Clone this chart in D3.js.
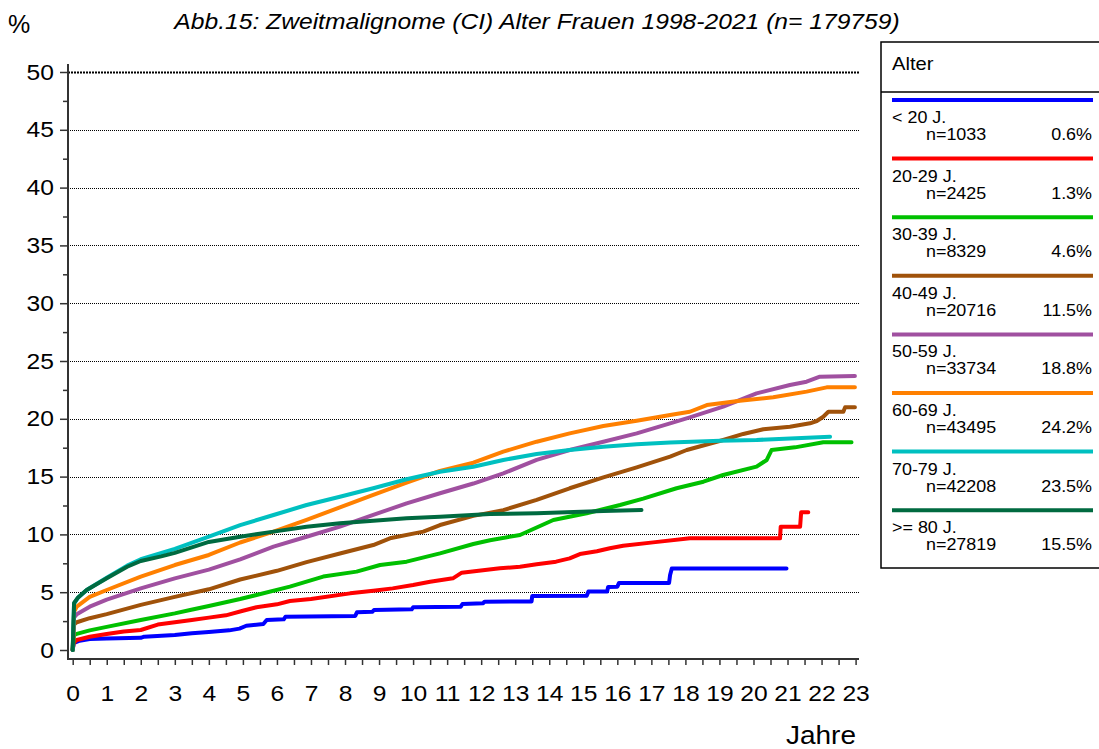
<!DOCTYPE html>
<html>
<head>
<meta charset="utf-8">
<script src="https://cdn.jsdelivr.net/npm/d3@7"></script>
<style>
  body { margin: 0; background: #fff; }
  svg text { font-family: "Liberation Sans", Arial, sans-serif; fill: #000; }
</style>
</head>
<body>
<div id="plot-container"></div>
<script>
// Age groups, case counts and share of all cases
const groups = ["< 20 J.", "20-29 J.", "30-39 J.", "40-49 J.", "50-59 J.", "60-69 J.", "70-79 J.", ">= 80 J."];
const groupN = [1033, 2425, 8329, 20716, 33734, 43495, 42208, 27819];
const groupPct = ["0.6%", "1.3%", "4.6%", "11.5%", "18.8%", "24.2%", "23.5%", "15.5%"];

// Cumulative incidence curves [Jahre, %]
const lt20 = [[0,0],[0.03,0.6],[0.2,0.8],[0.5,0.95],[1.0,1.0],[2.0,1.05],[2.1,1.15],[3.0,1.3],[3.5,1.45],[4.0,1.55],[4.6,1.7],[4.9,1.85],[5.1,2.1],[5.6,2.25],[5.7,2.6],[6.2,2.65],[6.25,2.88],[8.3,2.95],[8.35,3.26],[8.8,3.3],[8.85,3.45],[9.96,3.52],[10.0,3.69],[11.4,3.75],[11.45,3.98],[12.06,4.05],[12.1,4.18],[13.48,4.2],[13.5,4.67],[15.1,4.7],[15.15,5.05],[15.7,5.05],[15.73,5.45],[16.0,5.48],[16.05,5.8],[17.52,5.8],[17.55,6.49],[17.6,7.04],[20.97,7.04]];
const a20_29 = [[0,0],[0.03,0.6],[0.12,0.87],[0.5,1.15],[1.0,1.38],[1.5,1.6],[2.0,1.73],[2.5,2.2],[3.0,2.4],[3.5,2.6],[4.0,2.8],[4.5,3.0],[5.0,3.4],[5.4,3.7],[6.0,3.95],[6.38,4.24],[7.0,4.41],[8.15,4.9],[8.83,5.13],[9.4,5.33],[10.0,5.62],[10.5,5.91],[11.17,6.2],[11.43,6.69],[12.55,7.07],[13.14,7.2],[13.63,7.41],[14.2,7.64],[14.6,7.93],[14.9,8.3],[15.4,8.54],[15.78,8.8],[16.17,9.02],[17.05,9.31],[18.13,9.66],[20.78,9.66],[20.8,10.67],[21.37,10.67],[21.4,11.91],[21.61,11.91]];
const a30_39 = [[0,0],[0.04,1.3],[0.12,1.4],[0.5,1.7],[1,2.0],[2,2.6],[3,3.17],[3.45,3.46],[4,3.8],[4.92,4.41],[6.38,5.48],[7.36,6.35],[8.34,6.78],[9.03,7.35],[9.81,7.64],[10.79,8.36],[11.77,9.17],[12.26,9.5],[13.14,9.95],[14.12,11.25],[15.1,11.83],[16.08,12.54],[16.76,13.1],[17.74,13.99],[18.53,14.56],[19.11,15.14],[20.09,15.86],[20.39,16.44],[20.53,17.3],[21.22,17.53],[22.05,17.97],[22.88,17.97]];
const a40_49 = [[0,0],[0.04,2.2],[0.12,2.4],[0.5,2.75],[1,3.1],[2,3.9],[3,4.6],[4,5.25],[4.92,6.1],[6,6.85],[6.87,7.6],[7.85,8.35],[8.83,9.08],[9.32,9.66],[10.3,10.24],[10.79,10.81],[11.77,11.6],[12.65,12.1],[13.63,12.98],[14.6,13.99],[15.59,14.94],[16.57,15.8],[17.55,16.72],[18.04,17.3],[19.11,18.17],[19.7,18.69],[20.29,19.09],[21.07,19.32],[21.66,19.61],[21.86,19.81],[22.05,20.18],[22.2,20.61],[22.64,20.61],[22.69,20.99],[22.98,20.99]];
const a50_59 = [[0,0],[0.04,2.8],[0.12,3.1],[0.5,3.75],[1,4.35],[2,5.33],[3,6.2],[4,6.95],[4.92,7.84],[5.9,8.94],[6.87,9.8],[7.85,10.67],[8.83,11.68],[9.81,12.69],[10.79,13.56],[11.77,14.4],[12.65,15.28],[13.63,16.44],[14.6,17.3],[15.59,18.02],[16.57,18.74],[17.55,19.61],[18.13,20.13],[19.11,21.05],[20.09,22.2],[21.07,22.92],[21.56,23.21],[21.95,23.64],[22.98,23.7]];
const a60_69 = [[0,0],[0.04,3.3],[0.12,3.75],[0.5,4.6],[1,5.19],[2,6.34],[3,7.35],[4,8.22],[4.92,9.3],[5.9,10.24],[6.87,11.25],[7.85,12.34],[8.83,13.41],[9.81,14.47],[10.79,15.5],[11.77,16.2],[12.65,17.16],[13.63,18.02],[14.6,18.74],[15.59,19.38],[16.57,19.84],[17.55,20.33],[18.13,20.61],[18.63,21.19],[19.6,21.57],[20.58,21.86],[21.56,22.35],[22.15,22.72],[22.98,22.72]];
const a70_79 = [[0,0],[0.04,4.0],[0.16,4.55],[0.41,5.19],[1,6.25],[1.6,7.3],[2,7.85],[3,8.75],[4,9.8],[4.92,10.8],[5.9,11.68],[6.87,12.54],[7.85,13.26],[8.83,13.99],[9.81,14.77],[10.79,15.42],[11.77,15.85],[12.65,16.44],[13.63,16.96],[14.6,17.3],[15.59,17.59],[16.57,17.8],[17.55,17.94],[19.02,18.11],[20.09,18.17],[22.25,18.45]];
const a80plus = [[0,0],[0.04,4.07],[0.16,4.55],[0.41,5.19],[1,6.2],[1.6,7.2],[2,7.7],[2.6,8.1],[3,8.4],[4,9.35],[4.92,9.8],[5.9,10.24],[6.87,10.67],[7.85,10.96],[8.83,11.19],[9.81,11.39],[10.79,11.53],[12.26,11.76],[13.63,11.83],[15.59,12.02],[16.71,12.11]];

const series = [lt20, a20_29, a30_39, a40_49, a50_59, a60_69, a70_79, a80plus];
const colors = ["#0000ff", "#ff0000", "#00c000", "#a0520a", "#a050a0", "#ff8000", "#00c0c0", "#006a40"];

// Tick values
const yMajor = d3.range(0, 51, 5);
const yMinor = d3.range(2.5, 50, 5);
const xTickVals = d3.range(0, 23.01, 0.5);

const W = 1099, H = 749;
const SX = 1.12; // the original's text is a bit wider than Liberation Sans

const svg = d3.select("#plot-container")
    .append("svg")
    .attr("width", W)
    .attr("height", H);

// place a horizontally stretched text label
function label(parent, px, py, size, txt, anchor) {
    return parent.append("text")
        .attr("transform", `translate(${px},${py}) scale(${SX},1)`)
        .attr("text-anchor", anchor || "start")
        .style("font-size", size + "px")
        .text(txt);
}

const x = d3.scaleLinear().domain([0, 23]).range([72.7, 855.6]);
const y = d3.scaleLinear().domain([0, 50]).range([650, 72]);
const axisX = 68, axisY = 659, gridRight = 859;

// Gridlines (dotted)
svg.append("g").selectAll("line")
    .data(yMajor.filter(d => d > 0))
    .enter().append("line")
    .attr("x1", axisX).attr("x2", gridRight)
    .attr("y1", d => Math.round(y(d)) + 0.5).attr("y2", d => Math.round(y(d)) + 0.5)
    .attr("stroke", "#000")
    .attr("stroke-width", d => d === 50 ? 1.8 : 1)
    .attr("stroke-dasharray", d => d === 50 ? "2,1" : "1,1");

// Y axis
const gy = svg.append("g").attr("transform", `translate(${axisX},0)`);
gy.call(d3.axisLeft(y).tickValues(yMajor).tickSize(8).tickSizeOuter(0).tickPadding(5));
gy.call(g => g.select(".domain").remove());
gy.selectAll(".tick line").attr("stroke", "#333").attr("stroke-width", 1.5);
gy.selectAll(".tick text")
    .style("font-size", "22px").attr("fill", "#000")
    .attr("x", -14 / SX)
    .attr("transform", `scale(${SX},1)`);
gy.append("g").call(d3.axisLeft(y).tickValues(yMinor).tickSize(5).tickFormat(""))
    .call(g => g.select(".domain").remove())
    .selectAll("line").attr("stroke", "#333").attr("stroke-width", 1.5);
gy.append("line").attr("x1", 0).attr("x2", 0)
    .attr("y1", y(50) - 8).attr("y2", axisY + 1)
    .attr("stroke", "#333").attr("stroke-width", 2);

// X axis
const gx = svg.append("g").attr("transform", `translate(0,${axisY})`);
gx.call(d3.axisBottom(x).tickValues(xTickVals).tickSize(6).tickSizeOuter(0).tickPadding(20)
    .tickFormat(d => Number.isInteger(d) ? d : ""));
gx.call(g => g.select(".domain").remove());
gx.selectAll(".tick line").attr("stroke", "#333").attr("stroke-width", 1.5);
gx.selectAll(".tick text")
    .style("font-size", "22px").attr("fill", "#000")
    .attr("transform", `scale(${SX},1)`);
gx.append("line").attr("x1", axisX).attr("x2", gridRight).attr("y1", 0).attr("y2", 0)
    .attr("stroke", "#333").attr("stroke-width", 2);

// Curves
const line = d3.line().x(d => x(d[0])).y(d => y(d[1]));
svg.append("g").selectAll("path")
    .data(series)
    .enter().append("path")
    .attr("d", line)
    .attr("fill", "none")
    .attr("stroke", (d, i) => colors[i])
    .attr("stroke-width", 4)
    .attr("stroke-linejoin", "round")
    .attr("stroke-linecap", "round");

// Titles and axis labels
label(svg, 537, 29, 22, "Abb.15: Zweitmalignome (CI) Alter Frauen 1998-2021 (n= 179759)", "middle")
    .style("font-style", "italic");
svg.append("text").attr("x", 8).attr("y", 33)
    .style("font-size", "25px").text("%");
label(svg, 856, 744, 25, "Jahre", "end");

// Legend
const lg = svg.append("g");
lg.append("rect").attr("x", 881).attr("y", 42).attr("width", 240).attr("height", 526)
    .attr("fill", "#fff").attr("stroke", "#000").attr("stroke-width", 1.5);
label(lg, 892, 70, 18, "Alter");
lg.append("line").attr("x1", 881).attr("x2", 1099).attr("y1", 92).attr("y2", 92)
    .attr("stroke", "#000").attr("stroke-width", 1.5);
const step = 58.6;
groups.forEach((g, i) => {
    const item = lg.append("g").attr("transform", `translate(0,${100 + i * step})`);
    item.append("line").attr("x1", 892).attr("x2", 1093).attr("y1", 0).attr("y2", 0)
        .attr("stroke", colors[i]).attr("stroke-width", 4);
    label(item, 892, 23, 16, g);
    label(item, 926, 40, 16, "n=" + groupN[i]);
    label(item, 1092, 40, 16, groupPct[i], "end");
});
</script>
</body>
</html>
